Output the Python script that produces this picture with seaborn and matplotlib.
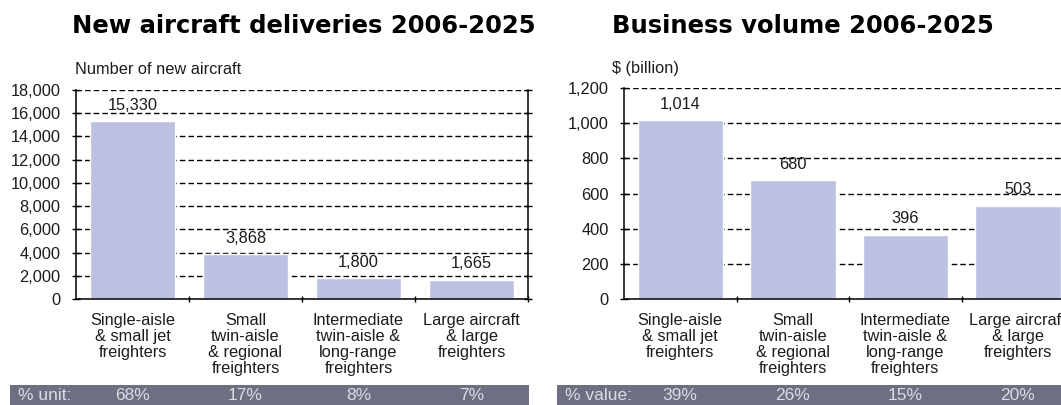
import matplotlib
matplotlib.use("Agg")
import matplotlib.pyplot as plt
from matplotlib.patches import Rectangle
from matplotlib.transforms import blended_transform_factory
from matplotlib.ticker import FuncFormatter, FixedLocator
import seaborn as sns
import pandas as pd

# ---------------- data ----------------
categories = [
    "Single-aisle\n& small jet\nfreighters",
    "Small\ntwin-aisle\n& regional\nfreighters",
    "Intermediate\ntwin-aisle &\nlong-range\nfreighters",
    "Large aircraft\n& large\nfreighters",
]
deliveries = [15330, 3868, 1800, 1665]
delivery_labels = ["15,330", "3,868", "1,800", "1,665"]
unit_share = ["68%", "17%", "8%", "7%"]

volume_bars = [1018, 677, 366, 530]          # bar heights as drawn
volume_labels = ["1,014", "680", "396", "503"]
value_share = ["39%", "26%", "15%", "20%"]

left_title = "New aircraft deliveries 2006-2025"
right_title = "Business volume 2006-2025"
left_sub = "Number of new aircraft"
right_sub = "$ (billion)"
left_yticks = [0, 2000, 4000, 6000, 8000, 10000, 12000, 14000, 16000, 18000]
right_yticks = [0, 200, 400, 600, 800, 1000, 1200]

# ---------------- style ----------------
sns.set_theme(style="white")
plt.rcParams["font.family"] = ["Liberation Sans", "DejaVu Sans"]
BAR = "#bcc0e1"
BAND = "#6e6f83"
TXT = "#1c1c1c"
FS = 11.8

W, H = 1061, 405
fig = plt.figure(figsize=(W / 100, H / 100), dpi=100)
fig.patch.set_facecolor("white")


def px_axes(x0, x1, ytop, ybot):
    return fig.add_axes([x0 / W, (H - ybot) / H, (x1 - x0) / W, (ybot - ytop) / H])


ax1 = px_axes(76, 528, 90, 299)
ax2 = px_axes(624, 624 + 4 * 112.5, 88, 299)


def draw(ax, vals, labels, yticks, share, band_x0, band_x1, band_title, right_spine):
    df = pd.DataFrame({"cat": categories, "val": vals})
    sns.barplot(data=df, x="cat", y="val", color=BAR, saturation=1, width=0.76,
                ax=ax, zorder=2)
    ax.set_xlim(-0.5, 3.5)
    ax.set_ylim(0, yticks[-1])
    ax.yaxis.set_major_locator(FixedLocator(yticks))
    ax.yaxis.set_major_formatter(FuncFormatter(lambda v, p: f"{int(v):,}"))
    ax.set_xlabel("")
    ax.set_ylabel("")
    ax.yaxis.grid(True, linestyle=(0, (4, 2.2)), color="black", linewidth=1.0, zorder=0)
    ax.xaxis.grid(False)
    ax.set_axisbelow(True)
    for s in ["left", "bottom"]:
        ax.spines[s].set_visible(True)
        ax.spines[s].set_color("black")
        ax.spines[s].set_linewidth(1.1)
    ax.spines["top"].set_visible(False)
    ax.spines["right"].set_visible(right_spine)
    ax.spines["right"].set_color("black")
    ax.spines["right"].set_linewidth(1.1)
    ax.tick_params(axis="y", which="major", left=True, right=right_spine,
                   direction="inout", length=6, width=1, color="black",
                   labelsize=FS, labelcolor=TXT, pad=8)
    ax.set_xticks(range(4))
    ax.set_xticklabels(categories, fontsize=FS, color=TXT, linespacing=1.1)
    ax.tick_params(axis="x", which="major", length=0, pad=10)
    ax.set_xticks([0.5, 1.5, 2.5, 3.5], minor=True)
    ax.tick_params(axis="x", which="minor", bottom=True, length=5, width=1,
                   color="black", direction="inout")
    for i, (v, lab) in enumerate(zip(vals, labels)):
        ax.annotate(lab, (i, v), xytext=(0, 6), textcoords="offset points",
                    ha="center", va="bottom", fontsize=FS, color=TXT)
    # bottom share band
    fig.patches.append(Rectangle((band_x0 / W, 0), (band_x1 - band_x0) / W, 20 / H,
                                 transform=fig.transFigure, facecolor=BAND,
                                 edgecolor="none", zorder=-5))
    fig.text((band_x0 + 8) / W, 10 / H, band_title, ha="left", va="center",
             fontsize=12.5, color="#dcdce4")
    tr = blended_transform_factory(ax.transData, fig.transFigure)
    for i, s in enumerate(share):
        ax.text(i, 10 / H, s, transform=tr, ha="center", va="center",
                fontsize=12.5, color="#dcdce4", clip_on=False, zorder=10)


draw(ax1, deliveries, delivery_labels, left_yticks, unit_share, 10, 529, "% unit:", True)
draw(ax2, volume_bars, volume_labels, right_yticks, value_share, 557, 1061, "% value:", False)

fig.text(72 / W, (H - 33) / H, left_title, ha="left", va="baseline",
         fontsize=17.5, fontweight="heavy", family="DejaVu Sans", color="black")
fig.text(612 / W, (H - 33) / H, right_title, ha="left", va="baseline",
         fontsize=17.5, fontweight="heavy", family="DejaVu Sans", color="black")
fig.text(75 / W, (H - 69) / H, left_sub, ha="left", va="center", fontsize=FS, color=TXT)
fig.text(612 / W, (H - 69) / H, right_sub, ha="left", va="center", fontsize=FS, color=TXT)

fig.savefig("out.png", dpi=100)
